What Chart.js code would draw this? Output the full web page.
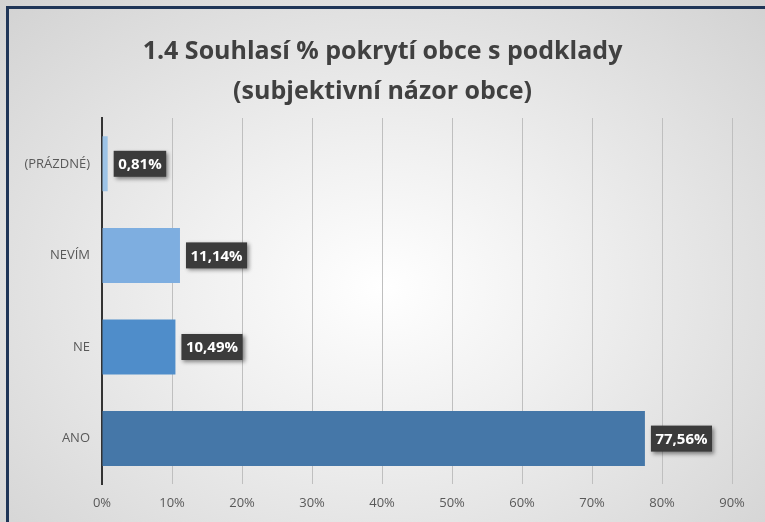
<!DOCTYPE html>
<html>
<head>
<meta charset="utf-8">
<script src="https://cdn.jsdelivr.net/npm/chart.js@4.4.1/dist/chart.umd.min.js"></script>
<style>
html, body { margin: 0; padding: 0; }
body { width: 765px; height: 522px; overflow: hidden; background: #fff; }
#wrap {
    position: relative;
    width: 765px; height: 522px;
    background: radial-gradient(ellipse at 50% 55%, #ffffff 0%, #f0f0f0 35%, #d2d2d2 100%);
}
#frame {
    position: absolute; left: 6px; top: 6px; width: 770px; height: 530px;
    border-left: 3px solid #1f3557; border-top: 3px solid #1f3557;
    box-sizing: border-box; pointer-events: none;
}
canvas { position: absolute; left: 0; top: 0; }
</style>
</head>
<body>
<div id="wrap">
    <canvas id="chart" width="765" height="522"></canvas>
    <div id="frame"></div>
</div>
<script>
var categories = ["(PRÁZDNÉ)", "NEVÍM", "NE", "ANO"];
var values = [0.81, 11.14, 10.49, 77.56];
var barColors = ["#9dc3e6", "#7eaee0", "#4f8dca", "#4577a8"];
var titleLines = ["1.4 Souhlasí % pokrytí obce s podklady", "(subjektivní názor obce)"];
var tickMax = 90, tickStep = 10;

function fmt(v) { return v.toFixed(2).replace(".", ",") + "%"; }

// dark boxed value labels to the right of each bar
var valueLabels = {
    id: "valueLabels",
    afterDatasetsDraw: function(chart) {
        var ctx = chart.ctx;
        var meta = chart.getDatasetMeta(0);
        ctx.save();
        ctx.font = "bold 15px 'Open Sans', sans-serif";
        meta.data.forEach(function(bar, i) {
            var txt = fmt(values[i]);
            var w = ctx.measureText(txt).width + 9, h = 26;
            var x = bar.x + 6, y = bar.y - h / 2;
            ctx.shadowColor = "rgba(0,0,0,0.45)";
            ctx.shadowBlur = 4;
            ctx.shadowOffsetX = 2;
            ctx.shadowOffsetY = 2;
            ctx.fillStyle = "#3b3b3b";
            ctx.fillRect(x, y, w, h);
            ctx.shadowColor = "transparent";
            ctx.fillStyle = "#ffffff";
            ctx.textBaseline = "middle";
            ctx.textAlign = "left";
            ctx.fillText(txt, x + 4.5, bar.y + 1);
        });
        ctx.restore();
    }
};

new Chart(document.getElementById("chart"), {
    type: "bar",
    data: {
        labels: categories,
        datasets: [{
            data: values,
            backgroundColor: barColors,
            borderWidth: 0,
            categoryPercentage: 0.6,
            barPercentage: 1
        }]
    },
    options: {
        indexAxis: "y",
        responsive: false,
        animation: false,
        layout: { padding: { top: 22, right: 0, bottom: 0, left: 0 } },
        plugins: {
            legend: { display: false },
            tooltip: { enabled: false },
            title: {
                display: true,
                text: titleLines,
                color: "#404040",
                font: { family: "'Open Sans', sans-serif", size: 25, weight: "bold", lineHeight: 1.6 },
                padding: { top: 10, bottom: 6 }
            }
        },
        scales: {
            x: {
                min: 0, max: tickMax,
                ticks: {
                    stepSize: tickStep,
                    color: "#595959",
                    font: { family: "'Open Sans', sans-serif", size: 13 },
                    padding: 11,
                    callback: function(v) { return v + "%"; }
                },
                grid: { color: "#bfbfbf", lineWidth: 1, drawTicks: false },
                border: { display: false },
                // leave the same empty strip on the right as in the original
                afterFit: function(scale) { scale.paddingRight = 33; }
            },
            y: {
                ticks: {
                    color: "#595959",
                    font: { family: "'Open Sans', sans-serif", size: 13 },
                    padding: 12
                },
                grid: { display: false, drawTicks: false },
                border: { display: true, color: "#333333", width: 2 },
                afterFit: function(scale) { scale.width = 102; }
            }
        }
    },
    plugins: [valueLabels]
});
</script>
</body>
</html>
